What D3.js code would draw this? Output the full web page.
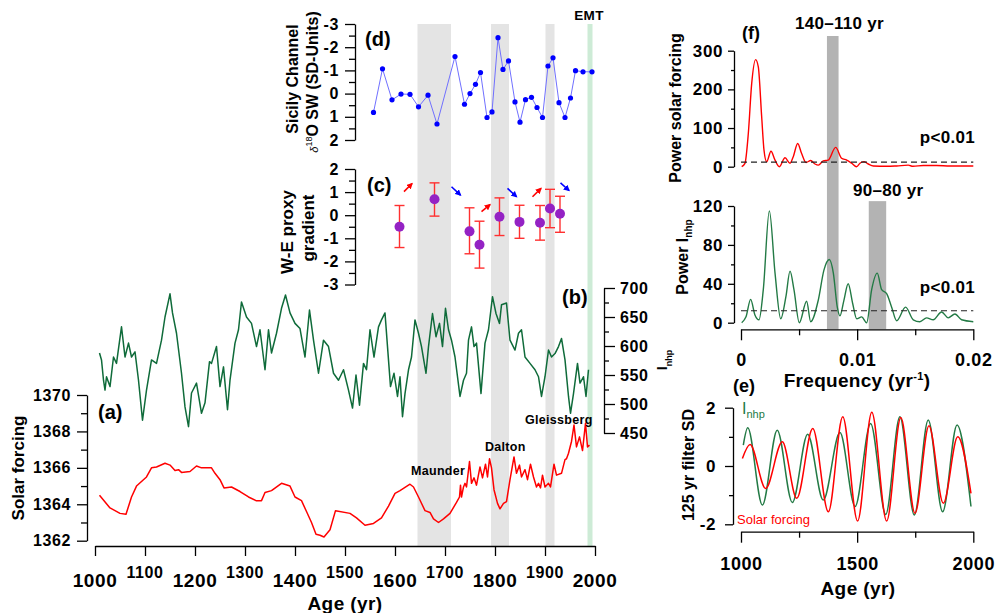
<!DOCTYPE html>
<html lang="en">
<head>
<meta charset="utf-8" />
<title>Solar forcing, Inhp and Sicily Channel proxies</title>
<script src="https://cdn.jsdelivr.net/npm/d3@7"></script>
<style>
  body { margin: 0; background: #fff; }
  svg text { font-family: "Liberation Sans", Arial, sans-serif; font-weight: bold; fill: #000; }
  .axis path, .axis line { stroke: #000; stroke-width: 1.3; }
</style>
</head>
<body>
<script>
// ---- data ----
// (a) solar forcing
var solarYear = [1009,1030,1050,1062,1073,1083,1103,1113,1123,1140,1150,1160,1167,1173,1190,1203,1213,1233,1240,1250,1258,1273,1290,1307,1322,1333,1340,1353,1373,1390,1400,1413,1423,1433,1442,1450,1458,1470,1481,1510,1523,1540,1557,1573,1587,1600,1610,1630,1637,1647,1660,1670,1677,1687,1697,1710,1723,1729,1731,1733,1737,1740,1743,1749,1753,1758,1763,1770,1775,1781,1785,1789,1793,1798,1805,1810,1817,1823,1830,1838,1843,1849,1853,1860,1865,1871,1877,1883,1887,1891,1895,1900,1907,1911,1918,1923,1933,1940,1943,1947,1953,1958,1963,1969,1975,1981,1985,1989];
var solarValue = [1364.5,1363.8,1363.5,1363.45,1364.4,1365.0,1365.5,1366.0,1366.05,1366.25,1366.15,1365.85,1365.9,1365.75,1365.8,1366.1,1366.0,1366.0,1365.7,1365.35,1364.9,1364.95,1364.7,1364.4,1364.2,1364.2,1364.65,1364.75,1365.15,1365.0,1364.4,1364.2,1363.6,1363.0,1362.35,1362.3,1362.2,1362.6,1363.65,1363.5,1363.25,1362.85,1362.95,1363.25,1363.9,1364.6,1364.75,1365.1,1364.95,1364.4,1363.65,1363.55,1363.2,1363.0,1363.2,1363.5,1364.1,1364.4,1365.05,1364.4,1364.95,1365.15,1364.95,1366.35,1365.15,1365.45,1365.05,1366.05,1365.45,1366.2,1365.5,1366.5,1366.0,1364.8,1364.05,1363.75,1364.05,1364.15,1365.35,1366.6,1365.7,1366.15,1365.5,1365.9,1365.35,1366.2,1365.5,1364.95,1365.15,1364.9,1365.6,1364.95,1365.15,1364.95,1366.2,1365.6,1365.7,1366.45,1366.5,1366.8,1367.45,1368.35,1367.15,1367.7,1366.95,1368.45,1367.15,1367.25];

// (b) Inhp
var inhpYear = [1009,1013,1017,1020,1023,1030,1037,1043,1053,1060,1067,1073,1080,1087,1095,1103,1113,1123,1133,1140,1150,1155,1163,1173,1180,1187,1193,1203,1213,1220,1229,1233,1243,1250,1257,1265,1270,1280,1287,1293,1303,1313,1323,1330,1340,1347,1353,1363,1373,1381,1390,1400,1410,1420,1429,1437,1447,1457,1467,1477,1487,1497,1507,1515,1522,1529,1537,1543,1550,1558,1567,1573,1580,1585,1591,1598,1605,1610,1615,1620,1627,1633,1640,1647,1653,1662,1667,1675,1682,1689,1695,1701,1707,1713,1720,1730,1737,1743,1747,1753,1758,1763,1772,1780,1787,1795,1802,1809,1813,1823,1830,1840,1847,1853,1860,1870,1880,1887,1893,1900,1907,1913,1920,1927,1933,1940,1947,1951,1957,1965,1970,1977,1982,1985,1987];
var inhpValue = [588,576,541,524,547,530,581,570,633,581,605,581,590,541,472,524,576,570,610,650,690,657,622,553,495,461,519,536,484,502,573,570,599,530,564,490,541,605,628,676,650,639,599,628,559,628,588,622,665,688,657,639,630,581,662,610,553,610,599,553,541,559,524,493,550,498,570,559,628,581,633,645,657,599,530,553,513,547,478,518,559,581,645,622,599,553,599,656,616,639,599,665,628,610,581,513,541,553,610,633,599,605,518,605,628,685,656,639,671,674,610,593,622,628,581,570,559,547,513,547,593,581,587,599,613,576,513,484,518,570,536,547,513,541,559];

// (d) Sicily Channel d18O SW
var sicilyYear = [1557,1575,1594,1612,1630,1647,1666,1684,1720,1739,1750,1761,1771,1784,1794,1806,1816,1827,1840,1850,1861,1873,1884,1895,1906,1916,1928,1940,1951,1961,1976,1994];
var sicilyValue = [0.81,-1.07,0.27,0.02,0.03,0.57,0.07,1.31,-1.6,0.46,0,-0.4,-0.91,1.03,0.79,-2.41,-1.04,-1.41,0.36,1.23,0.26,0.16,0.6,1.03,-1.19,-1.54,0.39,1.03,0.19,-0.99,-0.94,-0.94];

// (c) W-E proxy gradient
var gradYear = [1609,1679,1749,1769,1809,1849,1890,1910,1930];
var gradValue = [-0.5,0.69,-0.7,-1.28,-0.07,-0.29,-0.33,0.29,0.06];
var gradHigh = [0.42,1.4,0.32,-0.26,0.75,0.43,0.42,1.12,0.82];
var gradLow = [-1.4,-0.04,-1.67,-2.29,-0.88,-1.0,-1.08,-0.54,-0.74];
// trend arrows: [year, value] start and end
var arrowFrom = [[1618,1.02],[1713,1.23],[1773,0.15],[1825,1.16],[1875,0.8],[1931,1.4]];
var arrowTo = [[1634,1.37],[1731,0.87],[1790,0.46],[1843,0.8],[1892,1.16],[1948,1.07]];

// solar minima bands
var bandNames = ['Maunder', 'Dalton', 'Gleissberg'];
var bandStart = [1645, 1792, 1901];
var bandEnd = [1712, 1828, 1919];
var emtStart = 1985, emtEnd = 1995;

// (f) spectra
var specSolarFreq = [0.00006,0.00034,0.00063,0.00092,0.00126,0.00149,0.00178,0.00198,0.00221,0.00258,0.00293,0.0033,0.00379,0.00422,0.0045,0.00488,0.00522,0.0056,0.006,0.00637,0.00666,0.00708,0.00751,0.00815,0.00866,0.0091,0.00953,0.00995,0.01024,0.01058,0.01096,0.01139,0.01254,0.0134,0.0144,0.0148,0.0157,0.01684,0.018,0.0188,0.02];
var specSolarPower = [0,8.6,86,215,277,258,129,43,13,40,17,0,23,9,26,60,34,11,16,7,4,15,17,50,22,17,9,0,9,13,7,2,1,2,4,1,3,3,2,2,2];
var specInhpFreq = [0.00006,0.00043,0.00083,0.0012,0.00155,0.00192,0.00244,0.00293,0.00342,0.00387,0.00422,0.00456,0.00502,0.00565,0.006,0.00665,0.00714,0.0076,0.00795,0.00829,0.00852,0.00886,0.00923,0.00961,0.00996,0.01039,0.01082,0.01125,0.01173,0.01211,0.01254,0.01297,0.0134,0.01417,0.01483,0.0154,0.01598,0.01655,0.01727,0.01784,0.01842,0.01899,0.02];
var specInhpPower = [0,6,24,8,3,34,115,51,4,27,53,34,0,22,1,23,54,65,51,16,7,23,40,20,4,6,0,34,51,34,30,16,2,16,3,1,5,3,11,5,9,3,1];
var signifSolar = 12, signifInhp = 12.3;
var periodBandLow = [0.0074, 0.0110];
var periodBandHigh = [0.0084, 0.0125];
var periodLabels = ['140\u2013110 yr', '90\u201380 yr'];

// (e) 125 yr filtered series (turning points)
var filtInhpYear = [1010,1029,1092,1156,1221,1287,1354,1426,1491,1558,1623,1684,1746,1806,1868,1930,1990];
var filtInhpValue = [0.72,1.31,-1.34,1.23,-1.25,1.09,-1.17,1.15,-1.39,1.46,-1.66,1.69,-1.68,1.58,-1.57,1.41,-1.39];
var filtSolarYear = [1006,1039,1106,1178,1240,1309,1376,1438,1502,1563,1627,1688,1749,1809,1871,1933,1990];
var filtSolarValue = [0.26,0.74,-0.77,0.83,-1.11,1.29,-1.57,1.69,-1.89,1.84,-1.89,1.66,-1.62,1.38,-1.28,1.0,-0.94];

// tick labels
var solarTicks = [1362, 1364, 1366, 1368, 1370];
var inhpTicks = [450, 500, 550, 600, 650, 700];
var ageTicks = d3.range(1000, 2001, 100);
var proxyTicks = [-3, -2, -1, 0, 1, 2];
var freqTicks = [0, 0.01, 0.02];
var powSolarTicks = [0, 100, 200, 300];
var powInhpTicks = [0, 40, 80, 120];
var filtTicks = [-2, 0, 2];
var filtAgeTicks = [1000, 1500, 2000];

// ---- colours ----
var RED = '#ff0000', GREEN = '#0f6b3a', GREEN2 = '#237a45', BLUE = '#0000ff';

var svg = d3.select('body').append('svg')
    .attr('width', 996).attr('height', 613);

var xAge = d3.scaleLinear().domain([1000, 2000]).range([95, 595]);
var ySolar = d3.scaleLinear().domain([1362, 1370]).range([540.7, 395]);
var yInhp = d3.scaleLinear().domain([450, 700]).range([433, 288]);
var yD = d3.scaleLinear().domain([-3, 2]).range([24, 140]);
var yC = d3.scaleLinear().domain([-3, 2]).range([284.5, 169]);
var xFreq = d3.scaleLinear().domain([0, 0.02]).range([741, 973.3]);
var yPowS = d3.scaleLinear().domain([0, 300]).range([166.7, 50.7]);
var yPowI = d3.scaleLinear().domain([0, 120]).range([322.7, 206]);
var xAgeE = d3.scaleLinear().domain([1000, 2000]).range([741, 973.3]);
var yE = d3.scaleLinear().domain([-2, 2]).range([524.3, 407.7]);

var plain = function(d) { return String(d); };

function axis(fn, scale, tx, ty, major, minor, len, minorLen, pad, fs, fmt) {
    var g = svg.append('g').attr('class', 'axis').attr('transform', 'translate(' + tx + ',' + ty + ')');
    g.call(fn(scale).tickValues(major).tickSize(len).tickSizeOuter(0).tickPadding(pad).tickFormat(fmt || plain));
    g.selectAll('text').style('font-size', fs + 'px').style('letter-spacing', '0.6px');
    if (minor) {
        var m = svg.append('g').attr('class', 'axis').attr('transform', 'translate(' + tx + ',' + ty + ')');
        m.call(fn(scale).tickValues(minor).tickSize(minorLen).tickSizeOuter(0).tickFormat(''));
        m.select('.domain').remove();
    }
    return g;
}

// ---- background bands ----
svg.selectAll('rect.band').data(bandStart).enter().append('rect')
    .attr('class', 'band')
    .attr('x', function(d) { return xAge(d); })
    .attr('width', function(d, i) { return xAge(bandEnd[i]) - xAge(d); })
    .attr('y', yD(-3)).attr('height', 546 - yD(-3))
    .attr('fill', '#e4e4e4');
svg.append('rect')
    .attr('x', xAge(emtStart)).attr('width', xAge(emtEnd) - xAge(emtStart))
    .attr('y', yD(-3)).attr('height', 546 - yD(-3))
    .attr('fill', '#cdebd6');

// period bars in (f)
svg.selectAll('rect.period').data(periodBandLow).enter().append('rect')
    .attr('x', function(d) { return xFreq(d); })
    .attr('width', function(d, i) { return xFreq(periodBandHigh[i]) - xFreq(d); })
    .attr('y', function(d, i) { return i === 0 ? yPowS(338) : yPowI(125); })
    .attr('height', function(d, i) { return 329.3 - (i === 0 ? yPowS(338) : yPowI(125)); })
    .attr('fill', '#b3b3b3');

// ---- (b) Inhp ----
svg.append('path')
    .datum(inhpYear.map(function(y, i) { return [y, inhpValue[i]]; }))
    .attr('fill', 'none').attr('stroke', GREEN).attr('stroke-width', 1.5).attr('stroke-linejoin', 'round')
    .attr('d', d3.line().x(function(d) { return xAge(d[0]); }).y(function(d) { return yInhp(d[1]); }));

// ---- (a) solar forcing ----
svg.append('path')
    .datum(solarYear.map(function(y, i) { return [y, solarValue[i]]; }))
    .attr('fill', 'none').attr('stroke', RED).attr('stroke-width', 1.5).attr('stroke-linejoin', 'round')
    .attr('d', d3.line().x(function(d) { return xAge(d[0]); }).y(function(d) { return ySolar(d[1]); }));

// ---- (d) Sicily channel ----
svg.append('path')
    .datum(sicilyYear.map(function(y, i) { return [y, sicilyValue[i]]; }))
    .attr('fill', 'none').attr('stroke', '#7070ff').attr('stroke-width', 1)
    .attr('d', d3.line().x(function(d) { return xAge(d[0]); }).y(function(d) { return yD(d[1]); }));
svg.selectAll('circle.sic').data(sicilyYear).enter().append('circle')
    .attr('cx', function(d) { return xAge(d); })
    .attr('cy', function(d, i) { return yD(sicilyValue[i]); })
    .attr('r', 2.6).attr('fill', BLUE);

// ---- (c) gradient ----
var eb = svg.selectAll('g.eb').data(gradYear).enter().append('g')
    .attr('stroke', '#ff3030').attr('stroke-width', 1.4);
eb.append('line')
    .attr('x1', function(d) { return xAge(d); }).attr('x2', function(d) { return xAge(d); })
    .attr('y1', function(d, i) { return yC(gradHigh[i]); }).attr('y2', function(d, i) { return yC(gradLow[i]); });
eb.append('line')
    .attr('x1', function(d) { return xAge(d) - 5; }).attr('x2', function(d) { return xAge(d) + 5; })
    .attr('y1', function(d, i) { return yC(gradHigh[i]); }).attr('y2', function(d, i) { return yC(gradHigh[i]); });
eb.append('line')
    .attr('x1', function(d) { return xAge(d) - 5; }).attr('x2', function(d) { return xAge(d) + 5; })
    .attr('y1', function(d, i) { return yC(gradLow[i]); }).attr('y2', function(d, i) { return yC(gradLow[i]); });
svg.selectAll('circle.grad').data(gradYear).enter().append('circle')
    .attr('cx', function(d) { return xAge(d); })
    .attr('cy', function(d, i) { return yC(gradValue[i]); })
    .attr('r', 5).attr('fill', '#9422c4');

var defs = svg.append('defs');
[['arrRed', RED], ['arrBlue', BLUE]].forEach(function(a) {
    defs.append('marker').attr('id', a[0])
        .attr('viewBox', '0 0 10 10').attr('refX', 8).attr('refY', 5)
        .attr('markerWidth', 4).attr('markerHeight', 4).attr('orient', 'auto')
        .append('path').attr('d', 'M0,0 L10,5 L0,10 z').attr('fill', a[1]);
});
svg.selectAll('line.arrow').data(arrowFrom).enter().append('line')
    .attr('x1', function(d) { return xAge(d[0]); }).attr('y1', function(d) { return yC(d[1]); })
    .attr('x2', function(d, i) { return xAge(arrowTo[i][0]); }).attr('y2', function(d, i) { return yC(arrowTo[i][1]); })
    .attr('stroke', function(d, i) { return i % 2 === 0 ? RED : BLUE; })
    .attr('stroke-width', 1.6)
    .attr('marker-end', function(d, i) { return i % 2 === 0 ? 'url(#arrRed)' : 'url(#arrBlue)'; });

// ---- (f) spectra ----
svg.append('path')
    .datum(specSolarFreq.map(function(f, i) { return [f, specSolarPower[i]]; }))
    .attr('fill', 'none').attr('stroke', RED).attr('stroke-width', 1.4)
    .attr('d', d3.line().curve(d3.curveMonotoneX).x(function(d) { return xFreq(d[0]); }).y(function(d) { return yPowS(d[1]); }));
svg.append('path')
    .datum(specInhpFreq.map(function(f, i) { return [f, specInhpPower[i]]; }))
    .attr('fill', 'none').attr('stroke', GREEN2).attr('stroke-width', 1.4)
    .attr('d', d3.line().curve(d3.curveMonotoneX).x(function(d) { return xFreq(d[0]); }).y(function(d) { return yPowI(d[1]); }));
svg.append('line')
    .attr('x1', xFreq(0)).attr('x2', xFreq(0.02))
    .attr('y1', yPowS(signifSolar)).attr('y2', yPowS(signifSolar))
    .attr('stroke', '#222').attr('stroke-width', 1.2).attr('stroke-dasharray', '6,4');
svg.append('line')
    .attr('x1', xFreq(0)).attr('x2', xFreq(0.02))
    .attr('y1', yPowI(signifInhp)).attr('y2', yPowI(signifInhp))
    .attr('stroke', '#222').attr('stroke-width', 1.2).attr('stroke-dasharray', '6,4');

// ---- (e) filtered ----
svg.append('path')
    .datum(filtInhpYear.map(function(y, i) { return [y, filtInhpValue[i]]; }))
    .attr('fill', 'none').attr('stroke', GREEN2).attr('stroke-width', 1.5)
    .attr('d', d3.line().curve(d3.curveMonotoneX).x(function(d) { return xAgeE(d[0]); }).y(function(d) { return yE(d[1]); }));
svg.append('path')
    .datum(filtSolarYear.map(function(y, i) { return [y, filtSolarValue[i]]; }))
    .attr('fill', 'none').attr('stroke', RED).attr('stroke-width', 1.5)
    .attr('d', d3.line().curve(d3.curveMonotoneX).x(function(d) { return xAgeE(d[0]); }).y(function(d) { return yE(d[1]); }));

// ---- axes ----
axis(d3.axisLeft, ySolar, 87, 0, solarTicks, [1363, 1365, 1367, 1369], 10, 6, 6, 16);
axis(d3.axisRight, yInhp, 604, 0, inhpTicks, [475, 525, 575, 625, 675], 11, 5, 5, 16);
axis(d3.axisBottom, xAge, 0, 546, ageTicks, null, 10, 0, 0, 16, function() { return ''; });
svg.selectAll('text.age').data(ageTicks).enter().append('text')
    .attr('x', function(d) { return xAge(d); })
    .attr('y', function(d, i) { return i % 2 === 0 ? 587 : 578; })
    .attr('text-anchor', 'middle')
    .style('font-size', function(d, i) { return i % 2 === 0 ? '19px' : '16px'; })
    .style('letter-spacing', '0.6px')
    .text(plain);
axis(d3.axisLeft, yD, 355, 0, proxyTicks, [-2.5, -1.5, -0.5, 0.5, 1.5], 10, 6, 6, 16);
axis(d3.axisLeft, yC, 355, 0, proxyTicks, [-2.5, -1.5, -0.5, 0.5, 1.5], 10, 6, 6, 16);
axis(d3.axisLeft, yPowS, 734, 0, powSolarTicks, [50, 150, 250], 6, 3, 5, 17);
axis(d3.axisLeft, yPowI, 734, 0, powInhpTicks, [20, 60, 100], 6, 3, 5, 17);
axis(d3.axisBottom, xFreq, 0, 329.3, freqTicks, [0.005, 0.015], 11, 6, 13, 18);
axis(d3.axisLeft, yE, 733, 0, filtTicks, [-1, 1], 8, 4, 9, 17);
axis(d3.axisBottom, xAgeE, 0, 531.7, filtAgeTicks, [1250, 1750], 11, 6, 15, 18);

// ---- text ----
function label(x, y, txt, fs, opts) {
    opts = opts || {};
    var t = svg.append('text').attr('x', x).attr('y', y)
        .attr('text-anchor', opts.anchor || 'start')
        .style('font-size', fs + 'px');
    if (opts.rotate) t.attr('transform', 'rotate(-90,' + x + ',' + y + ')');
    if (opts.fill) t.style('fill', opts.fill);
    if (opts.normal) t.style('font-weight', 'normal');
    if (opts.ls !== undefined) t.style('letter-spacing', opts.ls + 'px');
    t.text(txt);
    return t;
}

// panel tags
label(98, 419, '(a)', 20);
label(562, 304, '(b)', 20);
label(367, 192, '(c)', 20);
label(365, 46, '(d)', 20);
label(742, 39, '(f)', 18);
label(733, 392, '(e)', 18);

// band names
var bandLabelX = [411, 485, 525];
var bandLabelY = [475, 451, 424];
bandNames.forEach(function(n, i) { label(bandLabelX[i], bandLabelY[i], n, 12.5, {ls: 0.3}); });
label(589, 20, 'EMT', 13.5, {anchor: 'middle', ls: 0.3});

// axis titles
label(345, 610, 'Age (yr)', 19, {anchor: 'middle', ls: 0.4});
label(24, 468, 'Solar forcing', 17, {anchor: 'middle', rotate: true});
var inl = label(667, 360, 'I', 14, {anchor: 'middle', rotate: true});
inl.append('tspan').attr('dy', 5).style('font-size', '9px').text('nhp');
label(298, 79, 'Sicily Channel', 16, {anchor: 'middle', rotate: true});
var dl = label(318, 82, '', 16, {anchor: 'middle', rotate: true});
dl.append('tspan').style('font-size', '11px').style('font-weight', 'normal').style('font-style', 'italic').text('\u03b4');
dl.append('tspan').attr('dy', -6).style('font-size', '9px').style('font-weight', 'normal').text('18');
dl.append('tspan').attr('dy', 6).text('O SW (SD-Units)');
label(293, 232, 'W-E proxy', 17, {anchor: 'middle', rotate: true});
label(314, 228, 'gradient', 17, {anchor: 'middle', rotate: true});

label(681, 108, 'Power solar forcing', 16, {anchor: 'middle', rotate: true});
var pl = label(688, 257, 'Power I', 16, {anchor: 'middle', rotate: true});
pl.append('tspan').attr('dy', 4).style('font-size', '10px').text('nhp');
label(694, 465, '125 yr filter SD', 16, {anchor: 'middle', rotate: true});

var fl = label(857, 387, 'Frequency (yr', 19, {anchor: 'middle', ls: 0.3});
fl.append('tspan').attr('dy', -7).style('font-size', '11px').text('-1');
fl.append('tspan').attr('dy', 7).text(')');
label(858, 595, 'Age (yr)', 19, {anchor: 'middle', ls: 0.4});

label(795, 29, periodLabels[0], 17, {ls: 0.3});
label(853, 196, periodLabels[1], 17, {ls: 0.3});
label(975, 143, 'p<0.01', 17, {anchor: 'end', ls: 0.3});
label(975, 293, 'p<0.01', 17, {anchor: 'end', ls: 0.3});

var il = label(742, 414, 'I', 16, {fill: GREEN2, normal: true});
il.append('tspan').attr('dy', 4).style('font-size', '11px').text('nhp');
label(737, 524, 'Solar forcing', 13, {fill: RED, normal: true});
</script>
</body>
</html>
